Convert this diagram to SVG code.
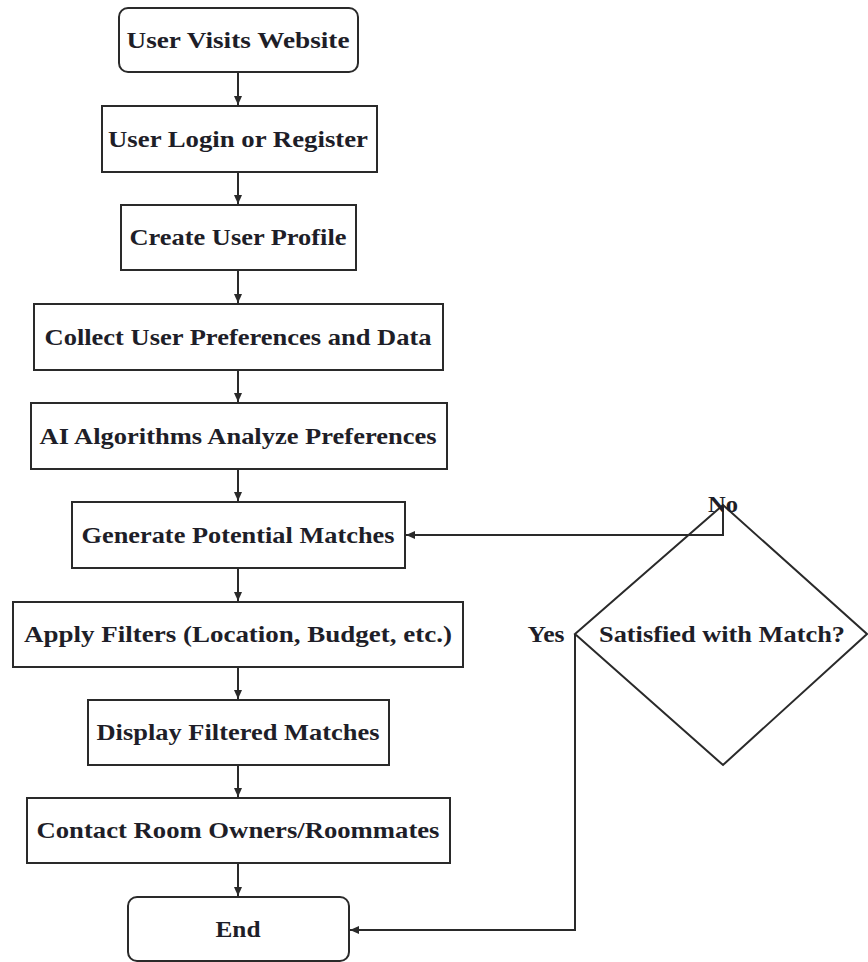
<svg xmlns="http://www.w3.org/2000/svg" width="868" height="962" viewBox="0 0 868 962">
<defs>
<style>
.box{fill:#fff;stroke:#2a2a2a;stroke-width:2}
.t{font-family:"Liberation Serif","Times New Roman",serif;font-weight:bold;font-size:23px;fill:#1e1e28;text-anchor:middle}
.c{fill:none;stroke:#2a2a2a;stroke-width:2}
</style>
<marker id="ah" markerWidth="10" markerHeight="10" refX="9" refY="5" orient="auto" markerUnits="userSpaceOnUse">
<path d="M0,1 L9,5 L0,9 Z" fill="#2a2a2a"/>
</marker>
</defs>
<rect width="868" height="962" fill="#fff"/>
<g id="connectors">
<line class="c" x1="238" y1="72" x2="238" y2="105" marker-end="url(#ah)"/>
<line class="c" x1="238" y1="172" x2="238" y2="204" marker-end="url(#ah)"/>
<line class="c" x1="238" y1="270" x2="238" y2="303" marker-end="url(#ah)"/>
<line class="c" x1="238" y1="370" x2="238" y2="402" marker-end="url(#ah)"/>
<line class="c" x1="238" y1="469" x2="238" y2="501" marker-end="url(#ah)"/>
<line class="c" x1="238" y1="568" x2="238" y2="601" marker-end="url(#ah)"/>
<line class="c" x1="238" y1="667" x2="238" y2="699" marker-end="url(#ah)"/>
<line class="c" x1="238" y1="765" x2="238" y2="797" marker-end="url(#ah)"/>
<line class="c" x1="238" y1="863" x2="238" y2="896" marker-end="url(#ah)"/>
<path class="c" d="M723,505 V535 H406" marker-end="url(#ah)"/>
<path class="c" d="M575,634 V930 H350" marker-end="url(#ah)"/>
</g>
<g id="n1"><rect class="box" x="119" y="8" width="239" height="64" rx="9"/><text class="t" x="238" y="48" textLength="223" lengthAdjust="spacingAndGlyphs">User Visits Website</text></g>
<g id="n2"><rect class="box" x="102" y="106" width="275" height="66"/><text class="t" x="238" y="147" textLength="260" lengthAdjust="spacingAndGlyphs">User Login or Register</text></g>
<g id="n3"><rect class="box" x="121" y="205" width="235" height="65"/><text class="t" x="238" y="245" textLength="217" lengthAdjust="spacingAndGlyphs">Create User Profile</text></g>
<g id="n4"><rect class="box" x="34" y="304" width="409" height="66"/><text class="t" x="238" y="345" textLength="387" lengthAdjust="spacingAndGlyphs">Collect User Preferences and Data</text></g>
<g id="n5"><rect class="box" x="31" y="403" width="416" height="66"/><text class="t" x="238" y="444" textLength="397" lengthAdjust="spacingAndGlyphs">AI Algorithms Analyze Preferences</text></g>
<g id="n6"><rect class="box" x="72" y="502" width="333" height="66"/><text class="t" x="238" y="543" textLength="313" lengthAdjust="spacingAndGlyphs">Generate Potential Matches</text></g>
<g id="n7"><rect class="box" x="13" y="602" width="450" height="65"/><text class="t" x="238" y="642" textLength="428" lengthAdjust="spacingAndGlyphs">Apply Filters (Location, Budget, etc.)</text></g>
<g id="n8"><rect class="box" x="88" y="700" width="301" height="65"/><text class="t" x="238" y="740" textLength="283" lengthAdjust="spacingAndGlyphs">Display Filtered Matches</text></g>
<g id="n9"><rect class="box" x="27" y="798" width="423" height="65"/><text class="t" x="238" y="838" textLength="403" lengthAdjust="spacingAndGlyphs">Contact Room Owners/Roommates</text></g>
<g id="n10"><rect class="box" x="128" y="897" width="221" height="64" rx="9"/><text class="t" x="238" y="937" textLength="45" lengthAdjust="spacingAndGlyphs">End</text></g>
<g id="decision"><polygon class="box" points="723,505 867,634 723,765 575,634" fill="none" style="fill:none"/><text class="t" x="722" y="642" textLength="246" lengthAdjust="spacingAndGlyphs">Satisfied with Match?</text></g>
<g id="labels">
<text class="t" x="546" y="642" textLength="37" lengthAdjust="spacingAndGlyphs">Yes</text>
<text class="t" x="723" y="512" textLength="30" lengthAdjust="spacingAndGlyphs">No</text>
</g>
</svg>
